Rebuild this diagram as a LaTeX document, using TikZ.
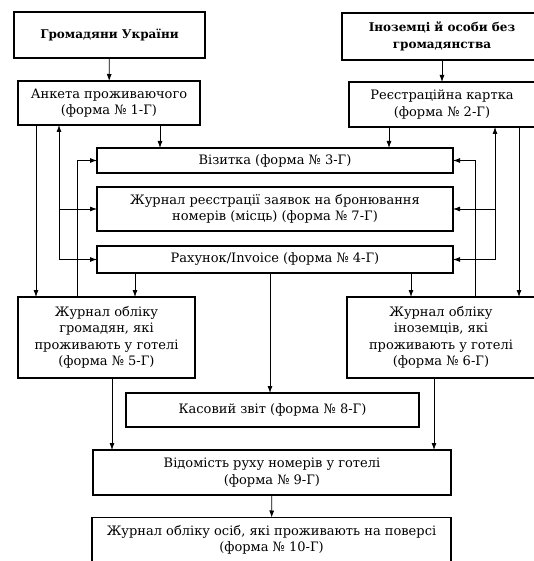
\documentclass[tikz,border=0pt]{standalone}
\usepackage{fontspec}
\setmainfont{DejaVu Serif}
\usetikzlibrary{arrows.meta}

\begin{document}
\begin{tikzpicture}[x=1pt,y=-1pt]
%define
\tikzstyle{state} = [rectangle, minimum height=44pt, text centered, align=center, draw=black, line width=1.1pt, inner sep=1pt, outer sep=0pt, font=\fontsize{13}{16.5}\selectfont]
\tikzstyle{state1} = [state, font=\fontsize{12}{16.5}\selectfont\bfseries]
\tikzstyle{arrow} = [-{Latex[length=7pt,width=5pt]}, line width=0.8pt]
\tikzstyle{arrowx} = [{Latex[length=7pt,width=5pt]}-{Latex[length=7pt,width=5pt]}, line width=0.8pt]

\useasboundingbox (0,0) rectangle (534,561);
\clip (0,0) rectangle (534,561);

%top
\node[state1, minimum width=191pt, minimum height=46pt](citizen) at (109.5,35){Громадяни України};
\node[state1, minimum width=200pt, minimum height=47pt](foreign) at (442,36.5){Іноземці й особи без\\громадянства};
\node[state, minimum width=182pt](form1) at (109,103){Анкета проживаючого\\(форма № 1-Г)};
\node[state, minimum width=186pt, minimum height=45pt](form2) at (442,104.5){Реєстраційна картка\\(форма № 2-Г)};
%middle
\node[state, minimum width=356pt, minimum height=25pt](form3) at (275,160.5){Візитка (форма № 3-Г)};
\node[state, minimum width=356pt](form7) at (275,209){Журнал реєстрації заявок на бронювання\\номерів (місць) (форма № 7-Г)};
\node[state, minimum width=356pt, minimum height=27pt](form4) at (275,259.5){Рахунок/Invoice (форма № 4-Г)};
\node[state, minimum width=177pt, minimum height=81pt](form5) at (106.5,337.5){Журнал обліку\\громадян, які\\проживають у готелі\\(форма № 5-Г)};
\node[state, minimum width=188pt, minimum height=81pt](form6) at (441,337.5){Журнал обліку\\іноземців, які\\проживають у готелі\\(форма № 6-Г)};
%bottom
\node[state, minimum width=293pt, minimum height=34pt](form8) at (272.5,410){Касовий звіт (форма № 8-Г)};
\node[state, minimum width=358pt, minimum height=45pt](form9) at (272,472.5){Відомість руху номерів у готелі\\(форма № 9-Г)};
\node[state, minimum width=359pt, minimum height=45pt](form10) at (271.5,540){Журнал обліку осіб, які проживають на поверсі\\(форма № 10-Г)};

%columns
\coordinate (colA) at (36,0);
\coordinate (colB) at (59,0);
\coordinate (colC) at (77,0);
\coordinate (colD) at (475,0);
\coordinate (colE) at (495,0);
\coordinate (colF) at (519,0);
\coordinate (col1) at (160,0);
\coordinate (col2) at (389,0);
\coordinate (col3) at (135,0);
\coordinate (col4) at (411,0);
\coordinate (col5) at (270,0);
\coordinate (col6) at (112,0);
\coordinate (col7) at (434,0);

%line
\draw[arrow](citizen)--(form1);
\draw[arrow](foreign)--(form2);
\draw[arrow](form1.south -| col1)--(form3.north -| col1);
\draw[arrow](form2.south -| col2)--(form3.north -| col2);
%left
\draw[arrow](form1.south -| colA)--(form5.north -| colA);
\draw[arrowx](form1.south -| colB)|-(form4.west);
\draw[arrow](form7.west -| colB)--(form7.west);
\draw[arrow](form5.north -| colC)|-(form3.west);
%right
\draw[arrow](form2.south -| colF)--(form6.north -| colF);
\draw[arrowx](form2.south -| colE)|-(form4.east);
\draw[arrow](form7.east -| colE)--(form7.east);
\draw[arrow](form6.north -| colD)|-(form3.east);
%down
\draw[arrow](form4.south -| col3)--(form5.north -| col3);
\draw[arrow](form4.south -| col4)--(form6.north -| col4);
\draw[arrow](form4.south -| col5)--(form8.north -| col5);
\draw[arrow](form5.south -| col6)--(form9.north -| col6);
\draw[arrow](form6.south -| col7)--(form9.north -| col7);
\draw[arrow](form9)--(form10);

\end{tikzpicture}
\end{document}
